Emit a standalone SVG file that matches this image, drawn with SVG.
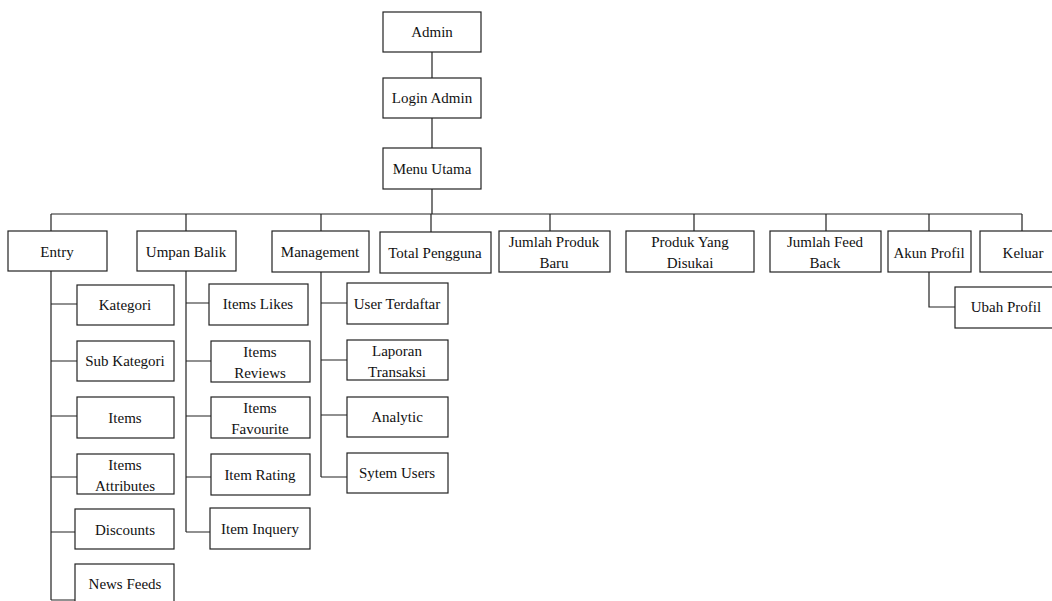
<svg xmlns="http://www.w3.org/2000/svg" width="1052" height="601" viewBox="0 0 1052 601">
<style>
.b{fill:#fff;stroke:#222;stroke-width:1.2}
.t{font-family:"Liberation Serif","Times New Roman",serif;font-size:15px;fill:#111;text-anchor:middle}
.c{fill:none;stroke:#222;stroke-width:1.2}
</style>
<rect width="1052" height="601" fill="#fff"/>
<g id="connectors">
<path class="c" d="M432 52V78M432 118V148M432 189V214M51 214H1022M51 214V231M186 214V231M321 214V231M431 214V232M550 214V231M694 214V231M826 214V231M929 214V231M1022 214V231"/>
<path class="c" d="M51 271V600M51 304H77M51 361H77M51 416H77M51 477H77M51 532H75M51 600H75"/>
<path class="c" d="M186 271V532M186 303H209M186 361H211M186 416H211M186 477H211M186 532H210"/>
<path class="c" d="M321 272V477M321 303H347M321 360H347M321 415H347M321 477H347"/>
<path class="c" d="M929 272V307H955"/>
</g>
<g id="admin"><rect class="b" x="383" y="12" width="98" height="40"/><text class="t" x="432" y="37">Admin</text></g>
<g id="login-admin"><rect class="b" x="383" y="78" width="98" height="40"/><text class="t" x="432" y="103">Login Admin</text></g>
<g id="menu-utama"><rect class="b" x="383" y="148" width="98" height="41"/><text class="t" x="432" y="174">Menu Utama</text></g>
<g id="entry"><rect class="b" x="8" y="231" width="99" height="40"/><text class="t" x="57" y="257">Entry</text></g>
<g id="umpan-balik"><rect class="b" x="137" y="231" width="99" height="40"/><text class="t" x="186" y="257">Umpan Balik</text></g>
<g id="management"><rect class="b" x="272" y="231" width="97" height="41"/><text class="t" x="320" y="257">Management</text></g>
<g id="total-pengguna"><rect class="b" x="380" y="232" width="111" height="41"/><text class="t" x="435" y="258">Total Pengguna</text></g>
<g id="jumlah-produk-baru"><rect class="b" x="499" y="231" width="111" height="41"/><text class="t" x="554" y="247">Jumlah Produk</text><text class="t" x="554" y="268">Baru</text></g>
<g id="produk-yang-disukai"><rect class="b" x="626" y="231" width="128" height="41"/><text class="t" x="690" y="247">Produk Yang</text><text class="t" x="690" y="268">Disukai</text></g>
<g id="jumlah-feed-back"><rect class="b" x="770" y="231" width="111" height="41"/><text class="t" x="825" y="247">Jumlah Feed</text><text class="t" x="825" y="268">Back</text></g>
<g id="akun-profil"><rect class="b" x="888" y="231" width="83" height="41"/><text class="t" x="929" y="258">Akun Profil</text></g>
<g id="keluar"><rect class="b" x="980" y="231" width="86" height="41"/><text class="t" x="1023" y="258">Keluar</text></g>
<g id="ubah-profil"><rect class="b" x="955" y="287" width="104" height="41"/><text class="t" x="1006" y="312">Ubah Profil</text></g>
<g id="kategori"><rect class="b" x="77" y="285" width="97" height="40"/><text class="t" x="125" y="310">Kategori</text></g>
<g id="sub-kategori"><rect class="b" x="77" y="341" width="97" height="40"/><text class="t" x="125" y="366">Sub Kategori</text></g>
<g id="items"><rect class="b" x="77" y="397" width="97" height="41"/><text class="t" x="125" y="423">Items</text></g>
<g id="items-attributes"><rect class="b" x="77" y="454" width="97" height="40"/><text class="t" x="125" y="470">Items</text><text class="t" x="125" y="491">Attributes</text></g>
<g id="discounts"><rect class="b" x="75" y="509" width="99" height="40"/><text class="t" x="125" y="535">Discounts</text></g>
<g id="news-feeds"><rect class="b" x="75" y="564" width="99" height="44"/><text class="t" x="125" y="589">News Feeds</text></g>
<g id="items-likes"><rect class="b" x="209" y="284" width="99" height="41"/><text class="t" x="258" y="309">Items Likes</text></g>
<g id="items-reviews"><rect class="b" x="211" y="341" width="99" height="41"/><text class="t" x="260" y="357">Items</text><text class="t" x="260" y="378">Reviews</text></g>
<g id="items-favourite"><rect class="b" x="211" y="397" width="99" height="41"/><text class="t" x="260" y="413">Items</text><text class="t" x="260" y="434">Favourite</text></g>
<g id="item-rating"><rect class="b" x="211" y="454" width="99" height="41"/><text class="t" x="260" y="480">Item Rating</text></g>
<g id="item-inquery"><rect class="b" x="210" y="508" width="100" height="41"/><text class="t" x="260" y="534">Item Inquery</text></g>
<g id="user-terdaftar"><rect class="b" x="347" y="283" width="101" height="41"/><text class="t" x="397" y="309">User Terdaftar</text></g>
<g id="laporan-transaksi"><rect class="b" x="347" y="340" width="101" height="40"/><text class="t" x="397" y="356">Laporan</text><text class="t" x="397" y="377">Transaksi</text></g>
<g id="analytic"><rect class="b" x="347" y="397" width="101" height="40"/><text class="t" x="397" y="422">Analytic</text></g>
<g id="sytem-users"><rect class="b" x="347" y="453" width="101" height="40"/><text class="t" x="397" y="478">Sytem Users</text></g>
</svg>
